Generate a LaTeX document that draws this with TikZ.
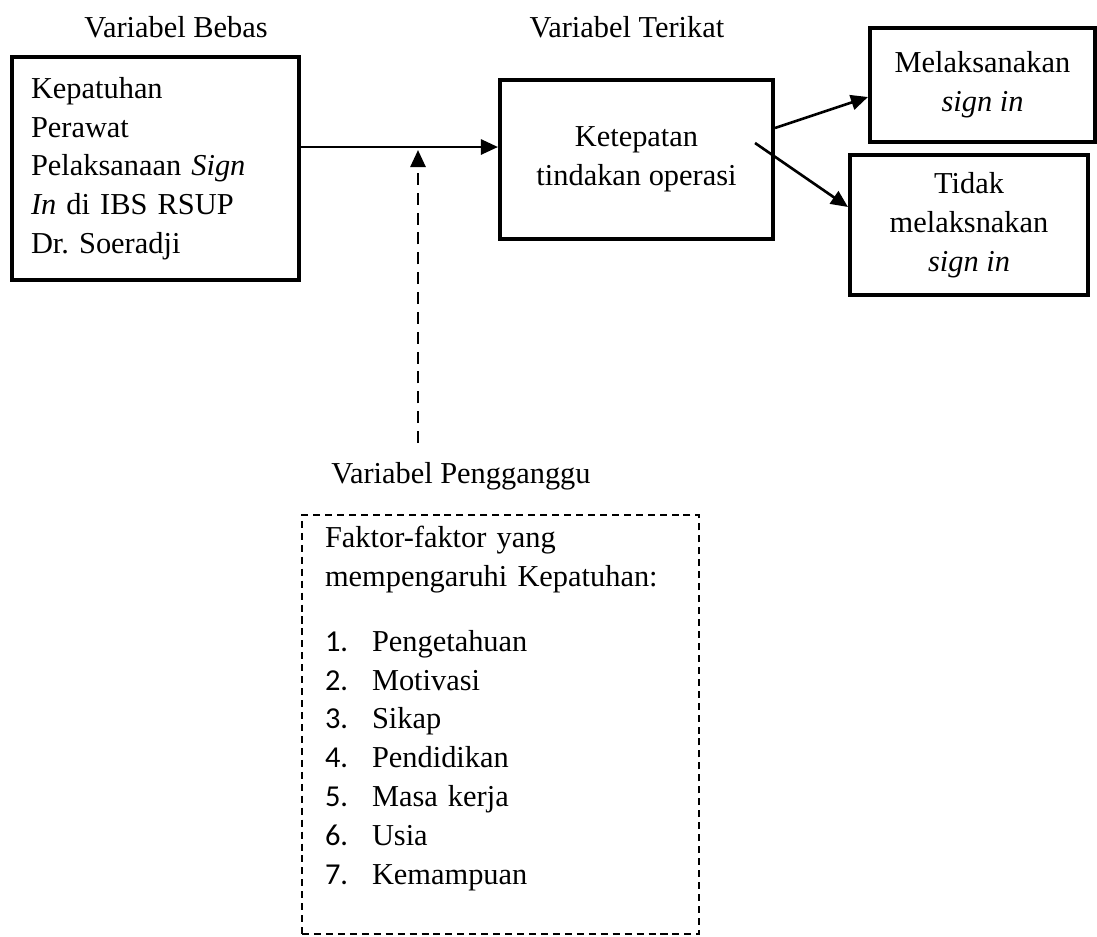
\documentclass[tikz,border=0pt]{standalone}
\usepackage{fontspec}
\setmainfont{Liberation Serif}
\newfontfamily\angka{Carlito}
\usepackage{tikz}
\usetikzlibrary{arrows.meta,positioning,calc}
\frenchspacing
\tikzset{
  box/.style={draw,line width=2.3pt,align=center,inner sep=0pt},          % kotak variabel: garis tebal
  faktor/.style={draw,line width=1.1pt,dash pattern=on 4pt off 2.8pt,
                 inner sep=0pt},                                           % pengganggu: garis putus-putus
  judul/.style={anchor=base,inner sep=0pt},                                % judul kelompok variabel
  ar/.style={-{Triangle[length=0.34cm,width=0.3cm]},line width=1.5pt},
  dar/.style={ar,dash pattern=on 6.8pt off 4.5pt}                          % pengaruh variabel pengganggu
}
\newcommand{\butir}[2]{\makebox[0.94cm][l]{\angka #1.}#2}

\begin{document}
\begin{tikzpicture}[font=\fontsize{17.3}{22.08}\selectfont]
  \useasboundingbox (0,0) rectangle (21.94,-18.72);
  \node[judul] (tbebas)   at (3.52,-0.74)  {Variabel Bebas};
  \node[judul] (tterikat) at (12.54,-0.74) {Variabel Terikat};

  \node[box,text width=4.98cm,align=left,inner xsep=0.38cm,minimum height=4.46cm] (bebas) at (3.11,-3.37)
    {Kepatuhan\\Perawat\\Pelaksanaan \textit{Sign}\\\textit{In} di IBS RSUP\\Dr. Soeradji};
  \node[box,minimum width=5.46cm,minimum height=3.18cm] (ket)   at (12.73,-3.19) {Ketepatan\\tindakan operasi};
  \node[box,minimum width=4.50cm,minimum height=2.28cm] (melak) at (19.65,-1.70) {Melaksanakan\\\textit{sign in}};
  \node[box,minimum width=4.76cm,minimum height=2.80cm] (tidak) at (19.38,-4.50) {Tidak\\melaksnakan\\\textit{sign in}};

  \coordinate (jalur) at (0,-2.94);
  \draw[ar] (bebas.east |- jalur) -- (ket.west |- jalur);
  \draw[ar] ([yshift=0.63cm]ket.east) -- ([yshift=-0.24cm]melak.west);
  \draw[ar] ([xshift=-0.4cm,yshift=0.33cm]ket.east) -- ([yshift=0.36cm]tidak.west);

  \coordinate (dkaki)  at (8.36,-8.86);
  \coordinate (dujung) at (8.36,-3.00);
  \draw[dar] (dkaki) -- (dujung);

  \node[judul] (peng) at (9.22,-9.66) {Variabel Pengganggu};
  \node[faktor,text width=7.02cm,inner xsep=0.46cm,align=left,minimum height=8.38cm] (faktor) at (10.01,-14.49)
    {Faktor-faktor yang\\mempengaruhi Kepatuhan:\\[0.52cm]
     \butir{1}{Pengetahuan}\\\butir{2}{Motivasi}\\\butir{3}{Sikap}\\\butir{4}{Pendidikan}\\
     \butir{5}{Masa kerja}\\\butir{6}{Usia}\\\butir{7}{Kemampuan}\\\mbox{}};
\end{tikzpicture}
\end{document}
